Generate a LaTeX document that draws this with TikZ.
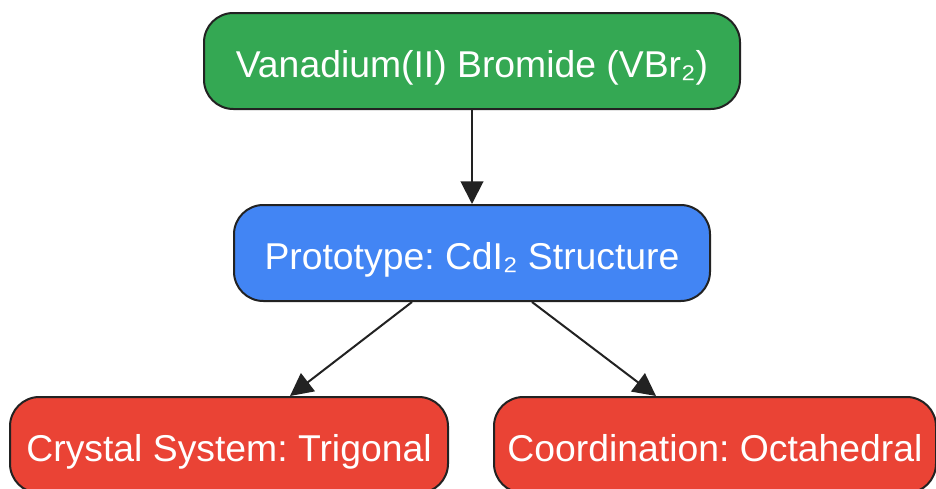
\documentclass[tikz,border=0pt]{standalone}
\usepackage{fontspec}
\setmainfont{Liberation Sans}
\usetikzlibrary{arrows.meta,calc}
\definecolor{gfill}{HTML}{34A853}
\definecolor{bfill}{HTML}{4285F4}
\definecolor{rfill}{HTML}{EA4335}
\definecolor{edge}{HTML}{222222}
\begin{document}
\begin{tikzpicture}[x=0.75pt,y=-0.75pt,
  box/.style={draw=edge,line width=1.5pt,rounded corners=22pt,text=white,
    minimum height=72pt,inner sep=0pt,text height=24pt,text depth=0pt,
    font=\fontsize{28}{34}\selectfont\frenchspacing},
  conn/.style={draw=edge,line width=1.5pt,-{Triangle[length=17pt,width=17pt]}}]
\clip (0,0) rectangle (936,489);
\fill[white] (0,0) rectangle (936,489);
\node[box,fill=gfill,minimum width=402pt] (top) at (472,61) {Vanadium(II) Bromide (VBr₂)};
\node[box,fill=bfill,minimum width=357pt] (mid) at (472,253) {Prototype: CdI₂ Structure};
\node[box,fill=rfill,minimum width=328.5pt] (left) at (229,445) {Crystal System: Trigonal};
\node[box,fill=rfill,minimum width=331.5pt] (right) at (715,445) {Coordination: Octahedral};
\coordinate (ml) at ($(mid.south)+(-60,0)$);
\coordinate (mr) at ($(mid.south)+(60,0)$);
\coordinate (le) at ($(left.north)+(61,0)$);
\coordinate (re) at ($(right.north)+(-59,0)$);
\draw[conn] (top) -- (mid);
\draw[conn] (ml) -- (le);
\draw[conn] (mr) -- (re);
\end{tikzpicture}
\end{document}
